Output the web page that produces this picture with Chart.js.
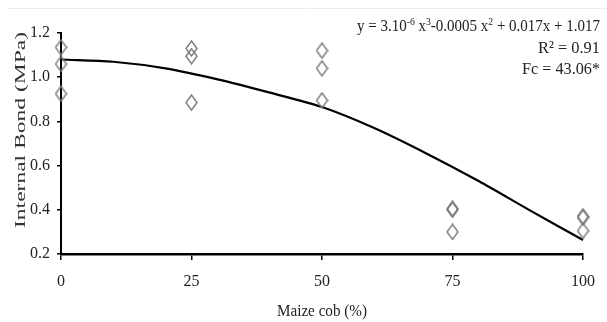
<!DOCTYPE html>
<html>
<head>
<meta charset="utf-8">
<style>
html,body{margin:0;padding:0;background:#fff;}
#c{display:block;}
</style>
<script src="https://cdn.jsdelivr.net/npm/chart.js@4/dist/chart.umd.min.js"></script>
</head>
<body>
<canvas id="c" width="607" height="322"></canvas>
<script>
// ---- Data ----
const obsX = [0, 0, 0, 25, 25, 25, 50, 50, 50, 75, 75, 75, 100, 100, 100];
const obsY = [1.135, 1.06, 0.925, 1.13, 1.095, 0.885, 1.12, 1.04, 0.895, 0.405, 0.40, 0.30, 0.37, 0.365, 0.305];
const fitX = [0, 10, 20, 30, 40, 50, 60, 70, 80, 90, 100];
const fitY = [1.08, 1.07, 1.04, 0.99, 0.93, 0.865, 0.77, 0.655, 0.53, 0.395, 0.263];
const yTicks = [0.2, 0.4, 0.6, 0.8, 1.0, 1.2];
const xTicks = [0, 25, 50, 75, 100];
const xTitle = 'Maize cob (%)';
const yTitle = 'Internal Bond (MPa)';
const eqLine2 = 'R² = 0.91';
const eqLine3 = 'Fc = 43.06*';

// diamond marker
function makeDiamond() {
  const cv = document.createElement('canvas');
  cv.width = 13; cv.height = 17;
  const g = cv.getContext('2d');
  g.strokeStyle = '#7a7a7a';
  g.lineWidth = 1.4;
  g.beginPath();
  g.moveTo(6.5, 1); g.lineTo(12, 8.5); g.lineTo(6.5, 16); g.lineTo(1, 8.5); g.closePath();
  g.stroke();
  return cv;
}
const diamond = makeDiamond();

function drawScaled(ctx, text, x, y, font, targetW, align) {
  ctx.font = font;
  const w = ctx.measureText(text).width;
  const s = targetW ? targetW / w : 1;
  ctx.save();
  ctx.translate(x, y);
  ctx.scale(s, 1);
  ctx.textAlign = align || 'left';
  ctx.fillText(text, 0, 0);
  ctx.restore();
}

const textPlugin = {
  id: 'texts',
  afterDraw(chart) {
    const ctx = chart.ctx;
    ctx.save();
    ctx.fillStyle = '#222';
    ctx.textBaseline = 'alphabetic';
    // faint frame line at top
    ctx.strokeStyle = '#ececec';
    ctx.lineWidth = 1;
    ctx.beginPath(); ctx.moveTo(8, 8.5); ctx.lineTo(607, 8.5); ctx.stroke();

    // x axis title
    const xa = chart.scales.x;
    const cx = (xa.left + xa.right) / 2;
    drawScaled(ctx, xTitle, cx - 45, 316, '17px "Liberation Serif"', 90, 'left');

    // y axis title (rotated)
    ctx.save();
    ctx.fillStyle = '#333';
    ctx.translate(25, 130);
    ctx.rotate(-Math.PI / 2);
    ctx.font = '15px "Liberation Serif"';
    const wY = ctx.measureText(yTitle).width;
    ctx.scale(196 / wY, 1);
    ctx.textAlign = 'center';
    ctx.fillText(yTitle, 0, 0);
    ctx.restore();

    // equation, line 1 with superscripts (compressed serif)
    const parts = [
      ['y = 3.10', false], ['-6', true], [' x', false], ['3', true],
      ['-0.0005 x', false], ['2', true], [' + 0.017x + 1.017', false]
    ];
    const big = '17px "Liberation Serif"', small = '11px "Liberation Serif"';
    let total = 0;
    parts.forEach(p => { ctx.font = p[1] ? small : big; total += ctx.measureText(p[0]).width; });
    const target = 243, s = target / total;
    ctx.save();
    ctx.translate(600 - target, 31);
    ctx.scale(s, 1);
    let px = 0;
    parts.forEach(p => {
      ctx.font = p[1] ? small : big;
      ctx.fillText(p[0], px, p[1] ? -6 : 0);
      px += ctx.measureText(p[0]).width;
    });
    ctx.restore();

    drawScaled(ctx, eqLine2, 600, 53, '17px "Liberation Serif"', 62, 'right');
    drawScaled(ctx, eqLine3, 600, 74, '17px "Liberation Serif"', 78, 'right');
    ctx.restore();
  }
};

new Chart(document.getElementById('c'), {
  type: 'scatter',
  data: {
    datasets: [
      {
        type: 'line',
        label: 'fit',
        data: fitX.map((x, i) => ({ x: x, y: fitY[i] })),
        borderColor: '#000',
        borderWidth: 2.2,
        pointRadius: 0,
        tension: 0.3,
        fill: false,
        clip: false,
        order: 1
      },
      {
        label: 'obs',
        data: obsX.map((x, i) => ({ x: x, y: obsY[i] })),
        pointStyle: diamond,
        pointRadius: 7,
        clip: false,
        order: 0
      }
    ]
  },
  options: {
    responsive: false,
    animation: false,
    devicePixelRatio: 1,
    layout: { padding: { top: 33, right: 22, bottom: 0, left: 0 } },
    plugins: { legend: { display: false }, tooltip: { enabled: false } },
    scales: {
      x: {
        type: 'linear', min: 0, max: 100,
        afterFit(s) { s.height = 68; },
        afterBuildTicks(s) { s.ticks = xTicks.map(v => ({ value: v })); },
        grid: { drawOnChartArea: false, drawTicks: true, tickLength: 6, color: '#000', lineWidth: 1.5 },
        border: { display: true, color: '#000', width: 2.5 },
        ticks: { color: '#222', font: { family: 'Liberation Serif', size: 16 }, padding: 12, maxRotation: 0 }
      },
      y: {
        type: 'linear', min: 0.2, max: 1.2,
        afterFit(s) { s.width = 61; },
        afterBuildTicks(s) { s.ticks = yTicks.map(v => ({ value: v })); },
        grid: { drawOnChartArea: false, drawTicks: true, tickLength: 4, color: '#000', lineWidth: 1.5 },
        border: { display: true, color: '#000', width: 2 },
        ticks: { color: '#222', font: { family: 'Liberation Serif', size: 16 }, padding: 7,
          callback: v => Number(v).toFixed(1) }
      }
    }
  },
  plugins: [textPlugin]
});
</script>
</body>
</html>
